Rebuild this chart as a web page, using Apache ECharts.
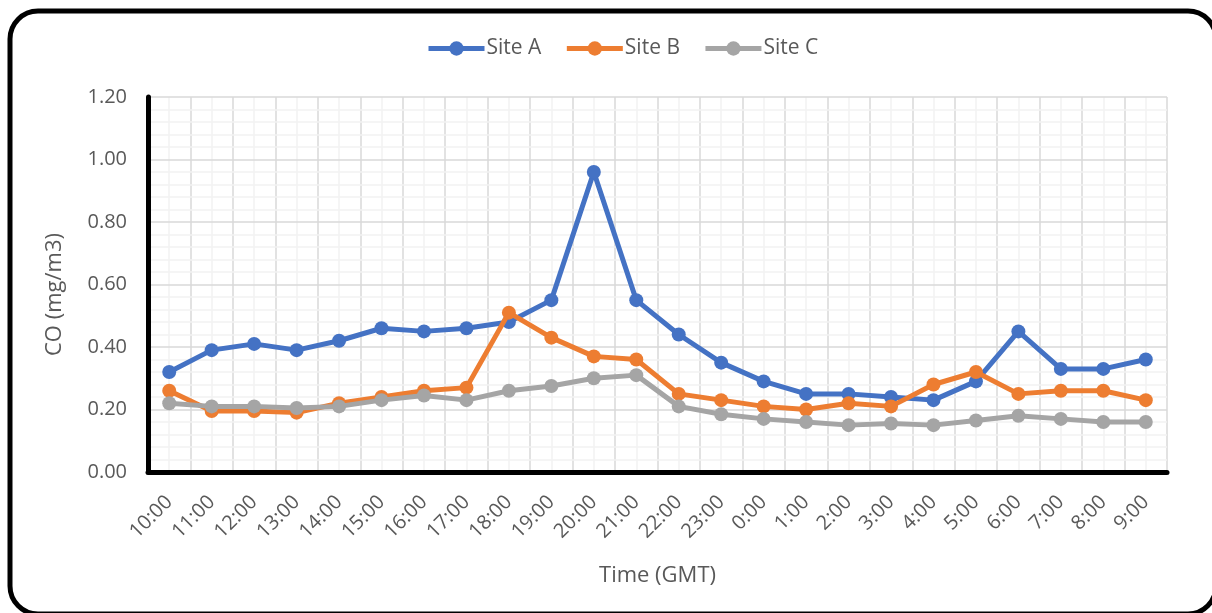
<!DOCTYPE html>
<html>
<head>
<meta charset="utf-8">
<script src="https://cdn.jsdelivr.net/npm/echarts@6/dist/echarts.min.js"></script>
<style>
html,body{margin:0;padding:0;background:#fff;}
#chart{width:1212px;height:613px;}
</style>
</head>
<body>
<div id="chart"></div>
<script>
const categories = ['10:00','11:00','12:00','13:00','14:00','15:00','16:00','17:00','18:00','19:00','20:00','21:00','22:00','23:00','0:00','1:00','2:00','3:00','4:00','5:00','6:00','7:00','8:00','9:00'];
const siteA = [0.32,0.39,0.41,0.39,0.42,0.46,0.45,0.46,0.48,0.55,0.96,0.55,0.44,0.35,0.29,0.25,0.25,0.24,0.23,0.29,0.45,0.33,0.33,0.36];
const siteB = [0.26,0.195,0.195,0.19,0.22,0.24,0.26,0.27,0.51,0.43,0.37,0.36,0.25,0.23,0.21,0.20,0.22,0.21,0.28,0.32,0.25,0.26,0.26,0.23];
const siteC = [0.22,0.21,0.21,0.205,0.21,0.23,0.245,0.23,0.26,0.275,0.30,0.31,0.21,0.185,0.17,0.16,0.15,0.155,0.15,0.165,0.18,0.17,0.16,0.16];
const seriesNames = ['Site A','Site B','Site C'];
const seriesColors = ['#4472C4','#ED7D31','#A5A5A5'];
const yTicks = {min:0, max:1.2, interval:0.2};

const FONT = '"Open Sans", "Noto Sans", sans-serif';
const chart = echarts.init(document.getElementById('chart'), null, {renderer:'canvas'});
const dataSets = [siteA, siteB, siteC];

const option = {
  backgroundColor: '#ffffff',
  animation: false,
  textStyle: {fontFamily: FONT},
  graphic: [{
    type: 'rect',
    shape: {x: 10, y: 11, width: 1206, height: 603, r: 28},
    style: {fill: 'none', stroke: '#000', lineWidth: 5},
    z: 100
  }],
  legend: {
    top: 33,
    left: 421,
    itemWidth: 56,
    itemHeight: 18,
    itemGap: 23,
    lineStyle: {width: 5},
    textStyle: {fontFamily: FONT, fontSize: 21, color: '#595959', padding: [0,0,0,-3]},
    data: seriesNames
  },
  grid: {left: 148, right: 45, top: 97, bottom: 141, containLabel: false},
  xAxis: [{
    type: 'category',
    data: categories,
    boundaryGap: true,
    axisLine: {show: true, lineStyle: {color: '#000', width: 5}},
    axisTick: {show: false},
    splitLine: {show: false},
    axisLabel: {rotate: 45, fontFamily: FONT, fontSize: 20, color: '#595959', margin: 27, interval: 0},
    name: 'Time (GMT)',
    nameLocation: 'middle',
    nameGap: 93,
    nameTextStyle: {fontFamily: FONT, fontSize: 22, color: '#595959'},
    z: 5
  }, {
    type: 'value',
    min: 0,
    max: categories.length,
    interval: 0.5,
    position: 'top',
    axisLine: {show: false},
    axisTick: {show: false},
    axisLabel: {show: false},
    splitLine: {show: true, lineStyle: {color: ['#d9d9d9','#f2f2f2'], width: 1.5}}
  }],
  yAxis: {
    type: 'value',
    min: yTicks.min,
    max: yTicks.max,
    interval: yTicks.interval,
    axisLine: {show: true, lineStyle: {color: '#000', width: 5}},
    axisTick: {show: false},
    axisLabel: {fontFamily: FONT, fontSize: 20, color: '#595959', margin: 21, formatter: v => v.toFixed(2)},
    splitLine: {show: true, lineStyle: {color: '#d9d9d9', width: 1.5}},
    minorTick: {show: false, splitNumber: 5},
    minorSplitLine: {show: true, lineStyle: {color: '#f2f2f2', width: 1.5}},
    name: 'CO (mg/m3)',
    nameLocation: 'middle',
    nameGap: 82,
    nameTextStyle: {fontFamily: FONT, fontSize: 22, color: '#595959', padding: [0, 20, 0, 0]},
    z: 5
  },
  series: seriesNames.map((n, i) => ({
    name: n,
    type: 'line',
    xAxisIndex: 0,
    data: dataSets[i],
    symbol: 'circle',
    symbolSize: 14,
    showAllSymbol: true,
    lineStyle: {color: seriesColors[i], width: 5},
    itemStyle: {color: seriesColors[i]},
    z: 10 + i
  }))
};
chart.setOption(option);
</script>
</body>
</html>
